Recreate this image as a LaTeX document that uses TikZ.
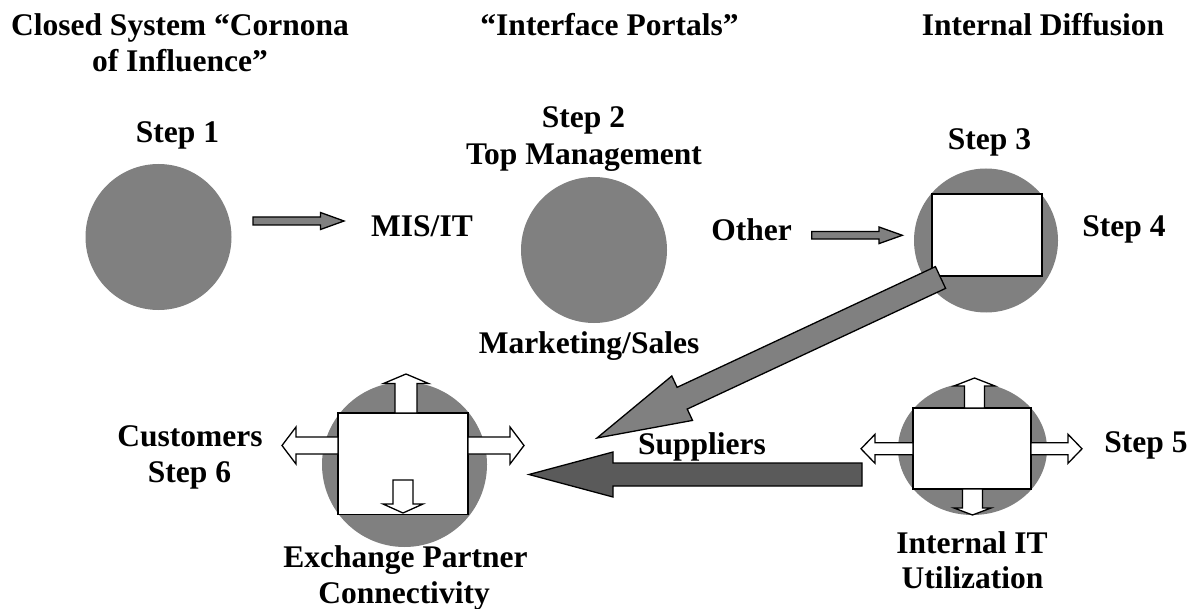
\documentclass[tikz,border=0pt]{standalone}
\usepackage{fontspec}
\setmainfont{Liberation Serif}
\usetikzlibrary{calc,shapes.geometric}

% Block arrow from coordinate #2 to coordinate #3:
% #4 half shaft width, #5 half head width, #6 head length
\newcommand{\blockarrow}[6]{%
  \path ($(#3)!#6!(#2)$) coordinate (ba-h);
  \draw[#1] ($(#2)!#4!90:(#3)$) -- ($(ba-h)!#4!-90:(#2)$) -- ($(ba-h)!#5!-90:(#2)$)
    -- (#3) -- ($(ba-h)!#5!90:(#2)$) -- ($(ba-h)!#4!90:(#2)$) -- ($(#2)!#4!-90:(#3)$) -- cycle;
}

\definecolor{discgray}{HTML}{808080}
\definecolor{darkgray}{HTML}{5A5A5A}

\tikzset{
  lbl/.style={font=\fontsize{31.5}{36}\selectfont\bfseries, inner sep=0pt, anchor=base},
  disc/.style={circle, fill=discgray, draw=none, inner sep=0pt},
  panel/.style={rectangle, fill=white, draw=black, line width=1.8pt, inner sep=0pt},
  grayarrow/.style={fill=discgray, draw=black, line width=1.3pt},
  darkarrow/.style={fill=darkgray, draw=black, line width=1.3pt},
  whitearrow/.style={fill=white, draw=black, line width=1.3pt},
}

\begin{document}
\begin{tikzpicture}[x=1pt,y=-1pt]
\useasboundingbox (0,0) rectangle (1190,609);

% column headings
\node[lbl] (h1a) at (180,36) {Closed System “Cornona};
\node[lbl] (h1b) at (180,72) {of Influence”};
\node[lbl] (h2) at (609.5,36) {“Interface Portals”};
\node[lbl] (h3) at (1043,36) {Internal Diffusion};

% discs
\node[disc, minimum size=146pt] (c1) at (158.5,237) {};
\node[disc, minimum size=146pt] (c2) at (594,250) {};
\node[disc, minimum size=144pt] (c3) at (986,240.5) {};
\node[disc, minimum size=165pt] (c6) at (404.5,464.5) {};
\node[disc, ellipse, minimum width=149pt, minimum height=132pt] (c5) at (972.5,449) {};

% panels
\node[panel, minimum width=110pt, minimum height=82pt] (r3) at (987,235) {};
\node[panel, minimum width=130pt, minimum height=101.5pt] (r6) at (403,463.75) {};
\node[panel, minimum width=118pt, minimum height=81pt] (r5) at (972,448.5) {};

% labels
\node[lbl] (s1) at (177.5,143) {Step 1};
\node[lbl] (s2a) at (583.5,128) {Step 2};
\node[lbl] (s2b) at (584,165) {Top Management};
\node[lbl] (mis) at (422,237) {MIS/IT};
\node[lbl] (mkt) at (589,353) {Marketing/Sales};
\node[lbl] (oth) at (751.5,241) {Other};
\node[lbl] (s3) at (989.5,150) {Step 3};
\node[lbl] (s4) at (1124,237) {Step 4};
\node[lbl] (cus) at (190,446) {Customers};
\node[lbl] (s6) at (189.5,482) {Step 6};
\node[lbl] (exa) at (405.5,567) {Exchange Partner};
\node[lbl] (exb) at (404,603) {Connectivity};
\node[lbl] (sup) at (702,454) {Suppliers};
\node[lbl] (s5) at (1146,452) {Step 5};
\node[lbl] (ita) at (972,553) {Internal IT};
\node[lbl] (itb) at (972.5,588) {Utilization};

% arrow end points
\coordinate (a1s) at (253,221);
\coordinate (a1e) at (344,221);
\coordinate (a2s) at (811.7,235.3);
\coordinate (a2e) at (902.3,235.3);
\coordinate (dgs) at (940.5,277.5);
\coordinate (dge) at (597,438);
\coordinate (sps) at (862,474.5);
\coordinate (spe) at (529,474.5);

\coordinate (u6s) at (406,413);
\coordinate (u6e) at (406,374);
\coordinate (d6s) at (403,480);
\coordinate (d6e) at (403,513);
\coordinate (l6s) at (338,445.5);
\coordinate (l6e) at (282,445.5);
\coordinate (q6s) at (468,445.5);
\coordinate (q6e) at (524,445.5);

\coordinate (u5s) at (974.5,408);
\coordinate (u5e) at (974.5,378);
\coordinate (d5s) at (972.5,489);
\coordinate (d5e) at (972.5,515);
\coordinate (l5s) at (913,448.8);
\coordinate (l5e) at (861,448.8);
\coordinate (q5s) at (1031,448.8);
\coordinate (q5e) at (1082,448.8);

% gray flow arrows
\blockarrow{grayarrow}{a1s}{a1e}{4pt}{8.5pt}{23.5pt}
\blockarrow{grayarrow}{a2s}{a2e}{3.8pt}{8.3pt}{23.3pt}
\blockarrow{grayarrow}{dgs}{dge}{12pt}{24.5pt}{94pt}
\blockarrow{darkarrow}{sps}{spe}{11.5pt}{22.5pt}{84pt}

% white arrows around the exchange panel
\blockarrow{whitearrow}{u6s}{u6e}{11pt}{22.5pt}{9.5pt}
\blockarrow{whitearrow}{d6s}{d6e}{10pt}{20pt}{9pt}
\blockarrow{whitearrow}{l6s}{l6e}{8.5pt}{18.5pt}{14pt}
\blockarrow{whitearrow}{q6s}{q6e}{8.5pt}{18.5pt}{14pt}

% white arrows around the internal panel
\blockarrow{whitearrow}{u5s}{u5e}{10pt}{20.5pt}{8pt}
\blockarrow{whitearrow}{d5s}{d5e}{10pt}{18.5pt}{7pt}
\blockarrow{whitearrow}{l5s}{l5e}{6pt}{14.5pt}{14pt}
\blockarrow{whitearrow}{q5s}{q5e}{6pt}{14.5pt}{14pt}
\end{tikzpicture}
\end{document}
